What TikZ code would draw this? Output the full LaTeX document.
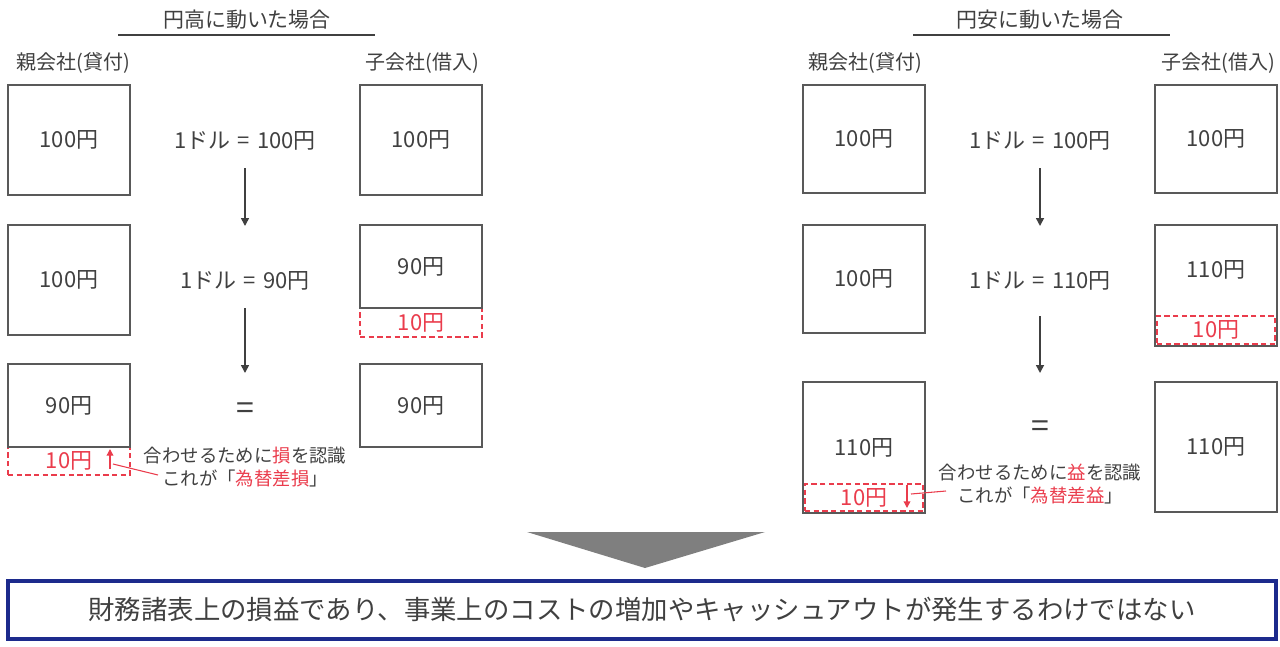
\documentclass[tikz,border=0pt]{standalone}
\usepackage{fontspec}
\setmainfont{Noto Sans CJK JP}
\usetikzlibrary{arrows.meta}
\definecolor{txt}{RGB}{64,64,64}
\definecolor{boxgray}{RGB}{89,89,89}
\definecolor{mred}{RGB}{234,60,76}
\definecolor{navy}{RGB}{28,42,140}
\definecolor{trigray}{RGB}{127,127,127}
\tikzset{
  sz/.style 2 args={minimum width=#1*0.75pt, minimum height=#2*0.75pt},
  box/.style={draw=boxgray, line width=1.4pt, inner sep=0pt, text=txt, font=\fontsize{16.5}{19}\selectfont},
  dbox/.style={draw=mred, dashed, dash pattern=on 4pt off 2.5pt, line width=1.1pt, inner sep=0pt, text=mred, font=\fontsize{16.5}{19}\selectfont},
  plain/.style={inner sep=0pt, text=txt, font=\fontsize{16.5}{19}\selectfont},
  lbl/.style={inner sep=0pt, text=txt, font=\fontsize{15}{18}\selectfont},
  ttl/.style={inner sep=0pt, text=txt, font=\fontsize{15.7}{18}\selectfont},
  note/.style={inner sep=0pt, text=txt, align=center, font=\fontsize{13.8}{17.2}\selectfont},
  darrow/.style={draw=txt, line width=1.2pt, -{Triangle[length=6pt,width=6pt]}},
  rarrow/.style={draw=mred, line width=1pt, -{Triangle[length=5pt,width=5pt]}},
  rline/.style={draw=mred, line width=0.8pt},
  uline/.style={draw=txt, line width=1.6pt}
}
\begin{document}
\begin{tikzpicture}[x=0.75pt,y=-0.75pt]
\useasboundingbox (0,0) rectangle (1280,646);

% ===== Left panel: 円高 =====
\node[ttl] (t1) at (247,20) {円高に動いた場合};
\coordinate (u1a) at (118,35); \coordinate (u1b) at (375,35);
\draw[uline] (u1a) -- (u1b);
\node[lbl] (p1) at (73,63) {親会社(貸付)};
\node[lbl] (c1) at (422,63) {子会社(借入)};

\node[box, sz={122}{110}] (A1) at (69,140) {100円};
\node[box, sz={122}{110}] (A2) at (69,280) {100円};
\node[dbox, sz={122}{28}] (A3d) at (69,461) {10円};
\node[box, sz={122}{83}] (A3) at (69,405.5) {90円};

\node[box, sz={122}{110}] (B1) at (421,140) {100円};
\node[dbox, sz={122}{29}] (B2d) at (421,322.5) {10円};
\node[box, sz={122}{83}] (B2) at (421,266.5) {90円};
\node[box, sz={122}{83}] (B3) at (421,405.5) {90円};

\node[plain] (M1) at (245,141) {1ドル\,\,=\,\,100円};
\node[plain] (M2) at (245,281) {1ドル\,\,=\,\,90円};
\node[plain, font=\fontsize{24}{24}\selectfont] (E1) at (245,411) {=};
\node[note] (N1) at (245,467) {合わせるために\textcolor{mred}{損}を認識\\これが「\textcolor{mred}{為替差損}」};
\coordinate (a1s) at (245,168); \coordinate (a1e) at (245,226);
\coordinate (a2s) at (245,308); \coordinate (a2e) at (245,373);
\draw[darrow] (a1s) -- (a1e);
\draw[darrow] (a2s) -- (a2e);
\coordinate (r1s) at (110,469); \coordinate (r1e) at (110,449);
\draw[rarrow] (r1s) -- (r1e);
\coordinate (l1a) at (113,464); \coordinate (l1b) at (158,475);
\draw[rline] (l1a) -- (l1b);

% ===== Right panel: 円安 =====
\node[ttl] (t2) at (1040,20) {円安に動いた場合};
\coordinate (u2a) at (913,35); \coordinate (u2b) at (1170,35);
\draw[uline] (u2a) -- (u2b);
\node[lbl] (p2) at (865,63) {親会社(貸付)};
\node[lbl] (c2) at (1218,63) {子会社(借入)};

\node[box, sz={122}{108}] (C1) at (864,139) {100円};
\node[box, sz={122}{108}] (C2) at (864,279) {100円};
\node[box, sz={122}{131}] (C3) at (864,447.5) {110円};
\node[dbox, sz={118}{27}] (C3d) at (864,497.5) {10円};

\node[box, sz={122}{108}] (D1) at (1216,139) {100円};
\node[box, sz={122}{121}] (D2) at (1216,285.5) {};
\node[plain] (D2t) at (1216,270) {110円};
\node[dbox, sz={118}{28}] (D2d) at (1216,330) {10円};
\node[box, sz={122}{130}] (D3) at (1216,447) {110円};

\node[plain] (M3) at (1040,141) {1ドル\,\,=\,\,100円};
\node[plain] (M4) at (1040,281) {1ドル\,\,=\,\,110円};
\node[plain, font=\fontsize{24}{24}\selectfont] (E2) at (1040,429) {=};
\node[note] (N2) at (1040,484) {合わせるために\textcolor{mred}{益}を認識\\これが「\textcolor{mred}{為替差益}」};
\coordinate (a3s) at (1040,168); \coordinate (a3e) at (1040,226);
\coordinate (a4s) at (1040,316); \coordinate (a4e) at (1040,373);
\draw[darrow] (a3s) -- (a3e);
\draw[darrow] (a4s) -- (a4e);
\coordinate (r2s) at (907,485); \coordinate (r2e) at (907,508);
\draw[rarrow] (r2s) -- (r2e);
\coordinate (l2a) at (911,494); \coordinate (l2b) at (946,491);
\draw[rline] (l2a) -- (l2b);

% ===== Bottom =====
\coordinate (tr1) at (527,532); \coordinate (tr2) at (765,532); \coordinate (tr3) at (645,568);
\fill[trigray] (tr1) -- (tr2) -- (tr3) -- cycle;
\node[draw=navy, line width=2.4pt, inner sep=0pt, text=txt, font=\fontsize{19.8}{22}\selectfont, sz={1268}{58}] (banner) at (642,610) {財務諸表上の損益であり、事業上のコストの増加やキャッシュアウトが発生するわけではない};
\end{tikzpicture}
\end{document}
